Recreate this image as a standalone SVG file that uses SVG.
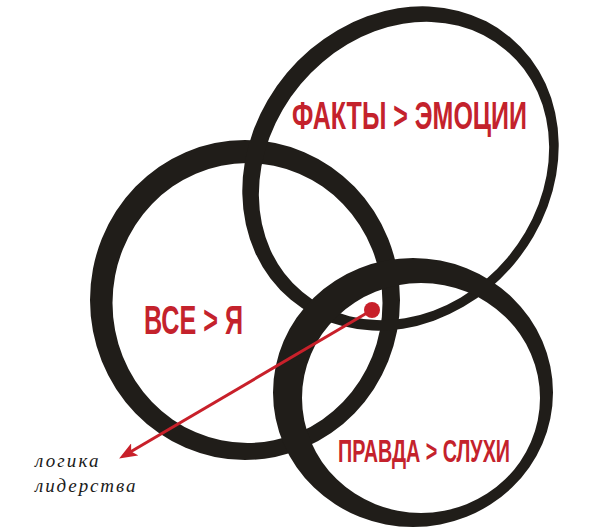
<svg xmlns="http://www.w3.org/2000/svg" width="600" height="531" viewBox="0 0 600 531">
  <style>
    .ring { fill: #201d19; fill-rule: evenodd; }
    .big { font-family: "Liberation Sans", Arial, sans-serif; font-weight: bold; fill: #c4222c; }
    .note { font-family: "Liberation Serif", "Times New Roman", serif; font-style: italic; font-size: 19px; fill: #1a1a1a; letter-spacing: 1.5px; }
    .conn { stroke: #c8202a; stroke-width: 3; fill: none; }
  </style>
  <defs>
    <marker id="arrow" markerUnits="userSpaceOnUse" markerWidth="18" markerHeight="14" viewBox="0 0 18 14" refX="12" refY="7" orient="auto">
      <path d="M0,0 L18,7 L0,14 L4,7 Z" fill="#c8202a"/>
    </marker>
  </defs>
  <rect width="600" height="531" fill="#ffffff"/>

  <g id="circle-all">
    <path class="ring" d="M 90 300 A 155 160 0 1 0 400 300 A 155 160 0 1 0 90 300 Z M 112.5 303 A 135 140 0 1 0 382.5 303 A 135 140 0 1 0 112.5 303 Z"/>
    <text class="big" transform="translate(144 334) scale(0.72 1)" x="0" y="0" font-size="40" textLength="137.5" lengthAdjust="spacingAndGlyphs">ВСЕ &gt; Я</text>
  </g>

  <g id="circle-facts">
    <path class="ring" d="M 510.42 37.51 A 171 148 -50 1 0 290.58 299.49 A 171 148 -50 1 0 510.42 37.51 Z M 505.56 49.97 A 158 134 -50 1 0 302.44 292.03 A 158 134 -50 1 0 505.56 49.97 Z"/>
    <text class="big" transform="translate(292 129) scale(0.72 1)" x="0" y="0" font-size="38" textLength="326.4" lengthAdjust="spacingAndGlyphs">ФАКТЫ &gt; ЭМОЦИИ</text>
  </g>

  <g id="circle-truth">
    <path class="ring" d="M 273 392.5 A 140 134.5 0 1 0 553 392.5 A 140 134.5 0 1 0 273 392.5 Z M 302 398 A 119 115 0 1 0 540 398 A 119 115 0 1 0 302 398 Z"/>
    <text class="big" transform="translate(338 462) scale(0.72 1)" x="0" y="0" font-size="31" textLength="238.9" lengthAdjust="spacingAndGlyphs">ПРАВДА &gt; СЛУХИ</text>
  </g>

  <g id="label-logic">
    <text class="note" x="35" y="467" textLength="65" lengthAdjust="spacing">логика</text>
    <text class="note" x="35" y="492" textLength="102" lengthAdjust="spacing">лидерства</text>
  </g>

  <g id="connectors">
    <line class="conn" x1="372" y1="310" x2="124.3" y2="455.5" marker-end="url(#arrow)"/>
    <circle cx="372" cy="310" r="8" fill="#c8202a"/>
  </g>
</svg>
